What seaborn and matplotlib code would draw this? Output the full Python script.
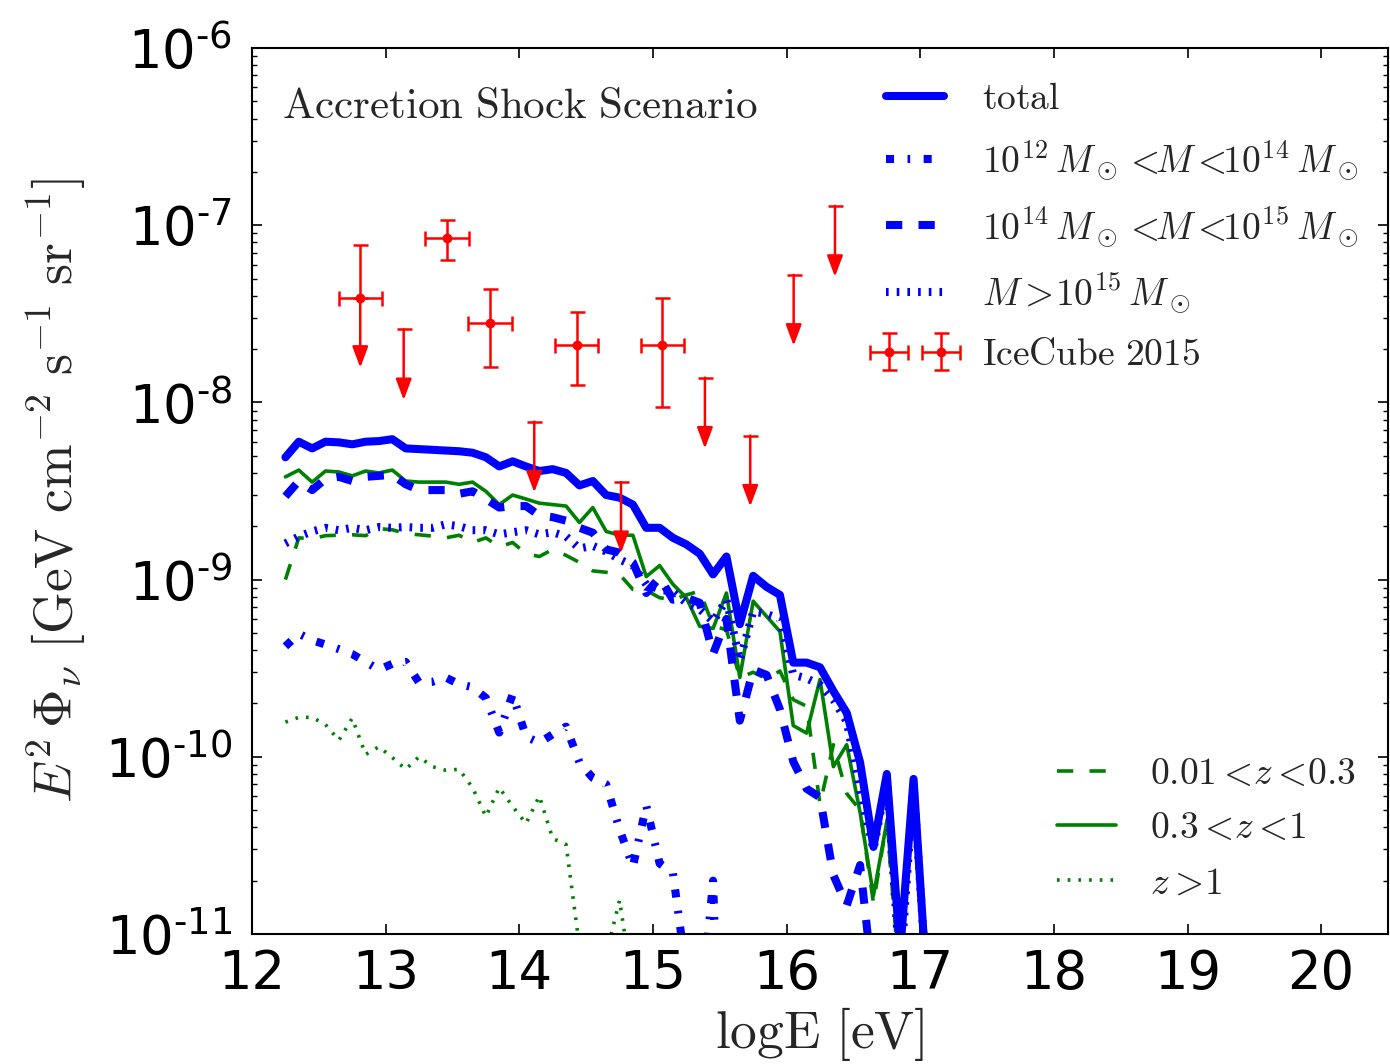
import numpy as np
import pandas as pd
import matplotlib
matplotlib.use("Agg")
import matplotlib.pyplot as plt
import seaborn as sns
from matplotlib.container import ErrorbarContainer
from matplotlib.legend_handler import HandlerErrorbar
from matplotlib.ticker import LogLocator, NullLocator, FixedLocator, FuncFormatter

# ---------------- data ----------------
logE = [12.25, 12.35, 12.45, 12.55, 12.65, 12.75, 12.85, 12.95, 13.05, 13.15,
        13.25, 13.35, 13.45, 13.55, 13.65, 13.75, 13.85, 13.95, 14.05, 14.15,
        14.25, 14.35, 14.45, 14.55, 14.65, 14.75, 14.85, 14.95, 15.05, 15.15,
        15.25, 15.35, 15.45, 15.55, 15.65, 15.75, 15.85, 15.95, 16.05, 16.15,
        16.25, 16.35, 16.45, 16.55, 16.65, 16.75, 16.85, 16.95, 17.05]

total = [4.9e-9, 6.0e-9, 5.5e-9, 6.0e-9, 5.95e-9, 5.8e-9, 6.0e-9, 6.05e-9, 6.2e-9, 5.5e-9,
         5.45e-9, 5.4e-9, 5.35e-9, 5.3e-9, 5.2e-9, 4.9e-9, 4.35e-9, 4.65e-9, 4.35e-9, 4.1e-9,
         4.2e-9, 4.0e-9, 3.4e-9, 3.6e-9, 3.0e-9, 2.9e-9, 2.65e-9, 1.96e-9, 1.96e-9, 1.72e-9,
         1.58e-9, 1.4e-9, 1.07e-9, 1.35e-9, 5.6e-10, 1.05e-9, 9.1e-10, 8.2e-10, 3.4e-10, 3.4e-10,
         3.2e-10, 2.35e-10, 1.77e-10, 9.3e-11, 3.1e-11, 8.0e-11, 8e-12, 7.5e-11, 5e-12]

mass_low = [4.2e-10, 4.95e-10, 4.55e-10, 4.3e-10, 4.05e-10, 3.8e-10, 3.43e-10, 3.1e-10, 3.35e-10, 3.43e-10,
            2.62e-10, 2.65e-10, 2.8e-10, 2.57e-10, 2.47e-10, 2.15e-10, 1.37e-10, 2.25e-10, 1.3e-10, 1.2e-10,
            1.34e-10, 1.48e-10, 9.3e-11, 7.6e-11, 7.0e-11, 3.9e-11, 2.4e-11, 5.3e-11, 2.5e-11, 2.2e-11,
            6e-12, 3e-12, 2.0e-11, 1e-13, 1e-13, 1e-13, 1e-13, 1e-13, 1e-13, 1e-13,
            1e-13, 1e-13, 1e-13, 1e-13, 1e-13, 1e-13, 1e-13, 1e-13, 1e-13]

mass_mid = [2.95e-9, 3.6e-9, 3.2e-9, 3.7e-9, 3.8e-9, 3.6e-9, 3.8e-9, 3.85e-9, 3.9e-9, 3.45e-9,
            3.2e-9, 3.2e-9, 3.2e-9, 3.05e-9, 3.15e-9, 2.85e-9, 2.55e-9, 2.6e-9, 2.6e-9, 2.3e-9,
            2.25e-9, 2.15e-9, 1.96e-9, 1.84e-9, 1.48e-9, 1.42e-9, 1.25e-9, 8.4e-10, 1.03e-9, 7.7e-10,
            7.9e-10, 7.4e-10, 3.8e-10, 6.0e-10, 1.6e-10, 3.1e-10, 2.9e-10, 1.85e-10, 9.4e-11, 6.6e-11,
            5.9e-11, 2.15e-11, 1.45e-11, 2.45e-11, 5e-12, 5e-12, 5e-12, 5e-12, 5e-12]

mass_high = [1.6e-9, 1.75e-9, 1.87e-9, 1.96e-9, 1.9e-9, 1.96e-9, 1.9e-9, 1.98e-9, 1.96e-9, 1.98e-9,
             1.96e-9, 1.96e-9, 2.05e-9, 2.0e-9, 1.9e-9, 1.9e-9, 1.8e-9, 1.85e-9, 1.9e-9, 1.8e-9,
             1.85e-9, 1.75e-9, 1.5e-9, 1.55e-9, 1.44e-9, 1.3e-9, 1.2e-9, 9.4e-10, 8.8e-10, 8.5e-10,
             7.4e-10, 6.8e-10, 5.8e-10, 7.7e-10, 3.5e-10, 6.6e-10, 6.4e-10, 6.0e-10, 2.9e-10, 2.77e-10,
             2.55e-10, 2.1e-10, 1.58e-10, 6.5e-11, 3.0e-11, 7.5e-11, 6e-12, 7e-11, 5e-12]

z_low = [1.0e-9, 1.72e-9, 1.7e-9, 1.77e-9, 1.78e-9, 1.79e-9, 1.77e-9, 1.94e-9, 1.91e-9, 1.82e-9,
         1.79e-9, 1.76e-9, 1.72e-9, 1.78e-9, 1.62e-9, 1.72e-9, 1.53e-9, 1.62e-9, 1.4e-9, 1.35e-9,
         1.48e-9, 1.37e-9, 1.25e-9, 1.12e-9, 1.1e-9, 1.07e-9, 8.8e-10, 8.7e-10, 7.9e-10, 7.7e-10,
         8.2e-10, 8.6e-10, 5.5e-10, 5.2e-10, 2.8e-10, 3.0e-10, 2.75e-10, 3.05e-10, 2.1e-10, 1.93e-10,
         5.4e-11, 1.17e-10, 6.2e-11, 5.0e-11, 1.5e-11, 4.3e-11, 5e-12, 5e-12, 5e-12]

z_mid = [3.8e-9, 4.15e-9, 3.55e-9, 4.1e-9, 4.05e-9, 3.85e-9, 4.1e-9, 4.0e-9, 4.15e-9, 3.6e-9,
         3.55e-9, 3.55e-9, 3.55e-9, 3.45e-9, 3.55e-9, 3.15e-9, 2.65e-9, 3.0e-9, 2.85e-9, 2.7e-9,
         2.65e-9, 2.6e-9, 2.1e-9, 2.55e-9, 1.87e-9, 1.78e-9, 1.78e-9, 1.04e-9, 1.2e-9, 9.4e-10,
         7.9e-10, 5.45e-10, 5.3e-10, 8.4e-10, 2.8e-10, 7.55e-10, 6.2e-10, 5.1e-10, 1.5e-10, 1.36e-10,
         2.73e-10, 8.8e-11, 1.17e-10, 4.85e-11, 1.65e-11, 4.3e-11, 8e-12, 7.45e-11, 5e-12]

z_high = [1.57e-10, 1.67e-10, 1.67e-10, 1.52e-10, 1.24e-10, 1.65e-10, 1.03e-10, 1.14e-10, 9.9e-11, 8.5e-11,
          1.0e-10, 8.8e-11, 8.4e-11, 8.5e-11, 6.7e-11, 4.6e-11, 6.7e-11, 5.25e-11, 4.2e-11, 6.0e-11,
          3.46e-11, 3.2e-11, 8.5e-12, 5e-12, 7.6e-12, 1.55e-11, 5e-12, 1e-13, 1e-13, 1e-13,
          1e-13, 1e-13, 1e-13, 1e-13, 1e-13, 1e-13, 1e-13, 1e-13, 1e-13, 1e-13,
          1e-13, 1e-13, 1e-13, 1e-13, 1e-13, 1e-13, 1e-13, 1e-13, 1e-13]

# IceCube 2015 data points
ic_x = [12.81, 13.46, 13.78, 14.43, 15.07]
ic_xerr = [0.162, 0.162, 0.162, 0.162, 0.162]
ic_y = [3.87e-8, 8.45e-8, 2.8e-8, 2.11e-8, 2.11e-8]
ic_ylow = [1.57e-8, 6.37e-8, 1.58e-8, 1.26e-8, 9.45e-9]
ic_yhigh = [7.74e-8, 1.07e-7, 4.36e-8, 3.24e-8, 3.9e-8]
ic_low_is_limit = [True, False, False, False, False]

# IceCube 2015 upper limits
ul_x = [13.135, 14.112, 14.761, 15.389, 15.728, 16.053, 16.362]
ul_y = [2.59e-8, 7.8e-9, 3.55e-9, 1.38e-8, 6.5e-9, 5.25e-8, 1.285e-7]

# tick values
x_ticks = [12, 13, 14, 15, 16, 17, 18, 19, 20]
y_ticks = [1e-11, 1e-10, 1e-9, 1e-8, 1e-7, 1e-6]

# ---------------- style ----------------
sns.set_theme(style="white")
plt.rcParams.update({
    "font.family": ["DejaVu Sans"],
    "mathtext.fontset": "cm",
    "lines.scale_dashes": False,
    "axes.edgecolor": "black",
    "axes.linewidth": 1.5,
    "xtick.direction": "in",
    "ytick.direction": "in",
    "xtick.top": True,
    "ytick.right": True,
    "xtick.bottom": True,
    "ytick.left": True,
    "xtick.color": "black",
    "ytick.color": "black",
})

BLUE = "#0000ff"
GREEN = "#008000"
RED = "#ff0000"
LW_B = 5.8
LW_G = 2.6
DASH = (0, (11.7, 11.7))
DASHDOT = (0, (5.8, 9.7, 1.9, 9.7))
DOT = (0, (1.9, 5.8))
ARROW_DECADES = 0.4

fig = plt.figure(figsize=(13.9, 10.64), dpi=100)
ax = fig.add_axes([252 / 1390, 1 - 934 / 1064, 1136 / 1390, 886 / 1064])
ax.set_yscale("log")


def draw(vals, color, lw, ls):
    df = pd.DataFrame({"logE": logE, "flux": vals})
    sns.lineplot(data=df, x="logE", y="flux", ax=ax, color=color, lw=lw,
                 linestyle=ls, estimator=None, sort=False, legend=False)
    return ax.lines[-1]


h_zlow = draw(z_low, GREEN, LW_G, DASH)
h_zmid = draw(z_mid, GREEN, LW_G, "-")
h_zhigh = draw(z_high, GREEN, LW_G, DOT)
h_low = draw(mass_low, BLUE, LW_B, DASHDOT)
h_mid = draw(mass_mid, BLUE, LW_B, DASH)
h_high = draw(mass_high, BLUE, LW_B, DOT)
h_tot = draw(total, BLUE, LW_B, "-")

# IceCube points
ylo_err = [0.0 if lim else y - lo for y, lo, lim in zip(ic_y, ic_ylow, ic_low_is_limit)]
yhi_err = [hi - y for y, hi in zip(ic_y, ic_yhigh)]
h_ic = ax.errorbar(ic_x, ic_y, xerr=ic_xerr, yerr=[ylo_err, yhi_err], fmt="o",
                   color=RED, ms=6, capsize=5.4, elinewidth=1.8, capthick=1.8, zorder=5)
arrow_kw = dict(arrowstyle="-|>,head_length=0.4,head_width=0.15", color=RED,
                lw=1.8, mutation_scale=32, shrinkA=0, shrinkB=0)
for x, y, lo, lim in zip(ic_x, ic_y, ic_ylow, ic_low_is_limit):
    if lim:
        ax.annotate("", xy=(x, lo), xytext=(x, y), arrowprops=arrow_kw, zorder=5)
for x, y in zip(ul_x, ul_y):
    ax.annotate("", xy=(x, y * 10 ** (-ARROW_DECADES)), xytext=(x, y),
                arrowprops=arrow_kw, zorder=5)
ax.plot(ul_x, ul_y, linestyle="none", marker="_", ms=10.8, mew=1.8, color=RED, zorder=5)

# axes
ax.set_xlim(12, 20.5)
ax.set_ylim(1e-11, 1e-6)
ax.xaxis.set_major_locator(FixedLocator(x_ticks))
ax.xaxis.set_minor_locator(NullLocator())
ax.yaxis.set_major_locator(FixedLocator(y_ticks))
ax.yaxis.set_minor_locator(LogLocator(base=10, subs=np.arange(2, 10), numticks=20))


def sci(v, pos):
    e = int(round(np.log10(v)))
    sign = "\u2010" if e < 0 else ""
    return r"$\mathdefault{10^{%s%d}}$" % (sign, abs(e))


ax.yaxis.set_major_formatter(FuncFormatter(sci))
ax.tick_params(which="major", length=7, width=1.2, labelsize=38, pad=10)
ax.tick_params(axis="y", which="major", pad=14)
ax.tick_params(which="minor", length=3.6, width=1.0)
for sp in ax.spines.values():
    sp.set_linewidth(1.5)
    sp.set_color("black")

ax.set_xlabel(r"$\mathrm{logE\ [eV]}$", fontsize=38.5, labelpad=4)
ax.set_ylabel(r"$E^2\,\Phi_\nu\ [\mathrm{GeV\ cm^{-2}\ s^{-1}\ sr^{-1}}]$",
              fontsize=38.5, labelpad=12)

ax.text(0.026, 0.935, r"$\mathrm{Accretion\ Shock\ Scenario}$", transform=ax.transAxes,
        fontsize=31, ha="left", va="center")

leg1 = ax.legend(
    [h_tot, h_low, h_mid, h_high, h_ic],
    [r"$\mathrm{total}$",
     r"$10^{12}\,M_\odot<\!\!M<\!\!10^{14}\,M_\odot$",
     r"$10^{14}\,M_\odot<\!\!M<\!\!10^{15}\,M_\odot$",
     r"$M>\!10^{15}\,M_\odot$",
     r"$\mathrm{IceCube\ 2015}$"],
    loc="upper left", bbox_to_anchor=(0.558, 0.963), frameon=False,
    fontsize=27, handlelength=1.55, handletextpad=1.0, borderpad=0,
    borderaxespad=0, labelspacing=0.58,
    handler_map={ErrorbarContainer: HandlerErrorbar(marker_pad=0.08, numpoints=2)})
ax.add_artist(leg1)

ax.legend(
    [h_zlow, h_zmid, h_zhigh],
    [r"$0.01<\!z<\!0.3$", r"$0.3<\!z<\!1$", r"$z>\!1$"],
    loc="lower left", bbox_to_anchor=(0.709, 0.037), frameon=False,
    fontsize=27, handlelength=1.55, handletextpad=0.93, borderpad=0,
    borderaxespad=0, labelspacing=0.5)

fig.savefig("out.png", dpi=100)
